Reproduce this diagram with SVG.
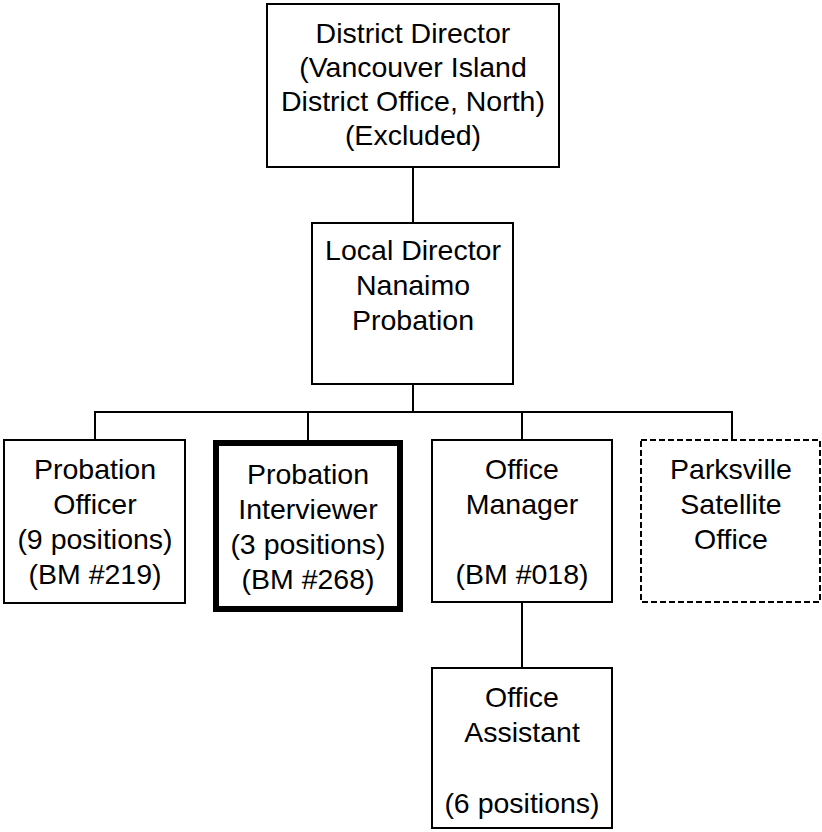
<svg xmlns="http://www.w3.org/2000/svg" width="822" height="832" viewBox="0 0 822 832">
<style>
.box{fill:#fff;stroke:#000;stroke-width:2}
.thick{fill:#fff;stroke:#000;stroke-width:6}
.dash{fill:#fff;stroke:#000;stroke-width:2;stroke-dasharray:6,3}
.conn{stroke:#000;stroke-width:2;fill:none}
text{font-family:"Liberation Sans",Arial,sans-serif;font-size:28.5px;text-anchor:middle;fill:#000}
</style>
<rect width="822" height="832" fill="#fff"/>
<g id="connectors">
<line class="conn" x1="413" y1="167" x2="413" y2="223"/>
<line class="conn" x1="413" y1="384" x2="413" y2="412"/>
<line class="conn" x1="95" y1="412" x2="732" y2="412"/>
<line class="conn" x1="95" y1="411" x2="95" y2="440"/>
<line class="conn" x1="308" y1="411" x2="308" y2="440"/>
<line class="conn" x1="522" y1="411" x2="522" y2="440"/>
<line class="conn" x1="732" y1="411" x2="732" y2="440"/>
<line class="conn" x1="522" y1="602" x2="522" y2="668"/>
</g>
<g id="district-director">
<rect class="box" x="267" y="4" width="292" height="163"/>
<text x="413" y="43">District Director</text>
<text x="413" y="77">(Vancouver Island</text>
<text x="413" y="111">District Office, North)</text>
<text x="413" y="145">(Excluded)</text>
</g>
<g id="local-director">
<rect class="box" x="312" y="223" width="201" height="161"/>
<text x="413" y="260">Local Director</text>
<text x="413" y="295">Nanaimo</text>
<text x="413" y="330">Probation</text>
</g>
<g id="probation-officer">
<rect class="box" x="4" y="440" width="181" height="163"/>
<text x="95" y="479">Probation</text>
<text x="95" y="514">Officer</text>
<text x="95" y="549">(9 positions)</text>
<text x="95" y="584">(BM #219)</text>
</g>
<g id="probation-interviewer">
<rect class="thick" x="216" y="443" width="184" height="166"/>
<text x="308" y="484">Probation</text>
<text x="308" y="519">Interviewer</text>
<text x="308" y="554">(3 positions)</text>
<text x="308" y="589">(BM #268)</text>
</g>
<g id="office-manager">
<rect class="box" x="432" y="440" width="180" height="162"/>
<text x="522" y="479">Office</text>
<text x="522" y="514">Manager</text>
<text x="522" y="584">(BM #018)</text>
</g>
<g id="parksville">
<rect class="dash" x="641" y="440" width="179" height="162"/>
<text x="731" y="479">Parksville</text>
<text x="731" y="514">Satellite</text>
<text x="731" y="549">Office</text>
</g>
<g id="office-assistant">
<rect class="box" x="432" y="668" width="180" height="160"/>
<text x="522" y="707">Office</text>
<text x="522" y="742">Assistant</text>
<text x="522" y="813">(6 positions)</text>
</g>
</svg>
